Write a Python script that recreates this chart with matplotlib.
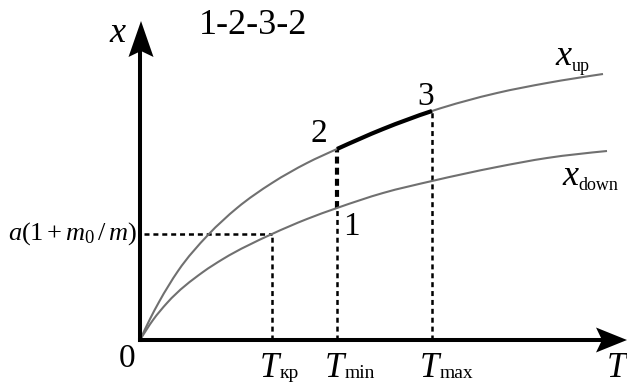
import numpy as np
import matplotlib
matplotlib.use('Agg')
import matplotlib.pyplot as plt
from matplotlib.path import Path
from matplotlib.patches import PathPatch

plt.rcParams['font.family'] = 'Liberation Serif'
plt.rcParams['mathtext.fontset'] = 'custom'
plt.rcParams['mathtext.rm'] = 'Liberation Serif'
plt.rcParams['mathtext.it'] = 'Liberation Serif:italic'
plt.rcParams['lines.scale_dashes'] = False

# upper and lower boundary curves x(T), in drawing units
T_up = np.array([0, 10, 19, 38, 68, 97, 132, 167, 197, 243, 292, 357, 407, 463])
x_up = np.array([0, 21, 38, 69, 105, 132, 157, 177, 191, 211, 229, 247, 257, 266])
T_down = np.array([0, 13, 27, 63, 83, 132, 167, 197, 243, 292, 357, 407, 467])
x_down = np.array([0, 20, 37, 68, 81, 106, 121, 132, 147, 159, 173, 182, 189])

# characteristic temperatures and levels
T_kr, T_min, T_max = 132, 197, 292
x_kr = 106        # a(1 + m0/m)
x_1 = 132         # point 1 on x_down
x_2 = 191         # point 2 on x_up
x_3 = 229         # point 3 on x_up

# axis lengths (arrow tips)
T_end = 487
x_end = 319

fig = plt.figure(figsize=(6.27, 3.88), dpi=100)
ax = fig.add_axes([0, 0, 1, 1])
ax.set_xlim(-140, 487)
ax.set_ylim(-48, 340)
ax.axis('off')


def bezier_segments(T, X):
    # cubic Hermite pieces through the points, slopes from neighbours
    T = np.asarray(T, float)
    X = np.asarray(X, float)
    h = np.diff(T)
    d = np.diff(X) / h
    m = np.empty(len(T))
    m[1:-1] = (d[:-1] * h[1:] + d[1:] * h[:-1]) / (h[:-1] + h[1:])
    m[0] = 1.5 * d[0] - 0.5 * m[1]
    m[-1] = 1.5 * d[-1] - 0.5 * m[-2]
    segs = []
    for i in range(len(T) - 1):
        p1 = np.array([T[i], X[i]])
        p2 = np.array([T[i + 1], X[i + 1]])
        c1 = p1 + np.array([h[i], m[i] * h[i]]) / 3
        c2 = p2 - np.array([h[i], m[i + 1] * h[i]]) / 3
        segs.append((p1, c1, c2, p2))
    return segs


def curve_path(segs):
    verts = [segs[0][0]]
    codes = [Path.MOVETO]
    for s in segs:
        verts += [s[1], s[2], s[3]]
        codes += [Path.CURVE4] * 3
    return Path(verts, codes)


def arrow_head(tip, d, length, hw, notch):
    tip = np.array(tip, float)
    d = np.array(d, float)
    p = np.array([-d[1], d[0]])
    pts = np.array([tip,
                    tip - d * length + p * hw,
                    tip - d * (length - notch),
                    tip - d * length - p * hw])
    ax.fill(pts[:, 0], pts[:, 1], color='k', lw=0, zorder=5)


# axes with arrows
axis_lw = 2.9
ax.plot([0, T_end - 25], [0, 0], color='k', lw=axis_lw, solid_capstyle='projecting', zorder=4)
ax.plot([0, 0], [0, x_end - 25], color='k', lw=axis_lw, solid_capstyle='projecting', zorder=4)
arrow_head((T_end, 0), (1, 0), 31, 12.5, 6)
arrow_head((1, x_end), (0, 1), 36, 12.5, 6)

# boundary curves
grey = '#707070'
up_segs = bezier_segments(T_up, x_up)
down_segs = bezier_segments(T_down, x_down)
ax.add_patch(PathPatch(curve_path(up_segs), fill=False, edgecolor=grey, lw=1.5, zorder=3))
ax.add_patch(PathPatch(curve_path(down_segs), fill=False, edgecolor=grey, lw=1.5, zorder=3))

# path 2-3 along x_up
i0 = int(np.where(T_up == T_min)[0][0])
i1 = int(np.where(T_up == T_max)[0][0])
ax.add_patch(PathPatch(curve_path(up_segs[i0:i1]), fill=False, edgecolor='k',
                       lw=3.0, capstyle='butt', zorder=4))

# dashed guides
thin = dict(color='k', lw=1.8, dashes=(3.6, 2.8), zorder=2)
ax.plot([4, T_kr], [x_kr, x_kr], **thin)
ax.plot([T_kr, T_kr], [0, x_kr], **thin)
ax.plot([T_min, T_min], [0, x_1], **thin)
ax.plot([T_max, T_max], [0, x_3], **thin)
ax.plot([T_min, T_min], [x_1, x_2], color='k', lw=3.0, dashes=(5.0, 3.0), zorder=2)

# labels
ax.text(-23, 306, 'x', fontsize=26, style='italic', ha='center', va='center')
ax.text(113, 314, '1-2-3-2', fontsize=26, ha='center', va='center')
ax.text(T_min - 18, x_2 + 15, '2', fontsize=24, ha='center', va='center')
ax.text(T_max - 6, x_3 + 14, '3', fontsize=24, ha='center', va='center')
ax.text(T_min + 14, x_1 - 19, '1', fontsize=24, ha='center', va='center')
ax.text(-13, -19, '0', fontsize=24, ha='center', va='center')
ax.text(-3, x_kr, r'$a(1+m_0\,/\,m)$', fontsize=19, ha='right', va='center')

# curve names
ax.text(415, 275, 'x', fontsize=26, style='italic', ha='left', va='baseline')
ax.text(432, 269, 'up', fontsize=13, ha='left', va='baseline')
ax.text(422, 155, 'x', fontsize=26, style='italic', ha='left', va='baseline')
ax.text(438, 150, 'down', fontsize=13, ha='left', va='baseline')

# temperature ticks
for T0, sub in [(T_kr, 'кр'), (T_min, 'min'), (T_max, 'max')]:
    ax.text(T0 - 12, -37, 'T', fontsize=25, style='italic', ha='left', va='baseline')
    ax.text(T0 + 8, -38, sub, fontsize=14, ha='left', va='baseline')
ax.text(467, -37, 'T', fontsize=25, style='italic', ha='left', va='baseline')

fig.savefig('out.png', dpi=100)
